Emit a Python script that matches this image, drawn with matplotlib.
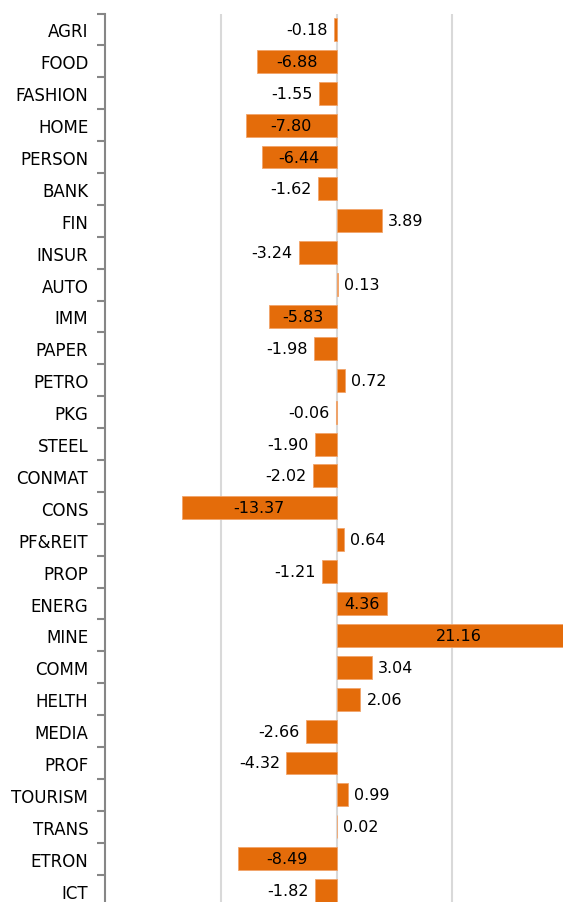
import matplotlib
matplotlib.use("Agg")
import matplotlib.pyplot as plt
import numpy as np

categories = ["AGRI", "FOOD", "FASHION", "HOME", "PERSON", "BANK", "FIN", "INSUR",
              "AUTO", "IMM", "PAPER", "PETRO", "PKG", "STEEL", "CONMAT", "CONS",
              "PF&REIT", "PROP", "ENERG", "MINE", "COMM", "HELTH", "MEDIA", "PROF",
              "TOURISM", "TRANS", "ETRON", "ICT"]
values = [-0.18, -6.88, -1.55, -7.80, -6.44, -1.62, 3.89, -3.24,
          0.13, -5.83, -1.98, 0.72, -0.06, -1.90, -2.02, -13.37,
          0.64, -1.21, 4.36, 21.16, 3.04, 2.06, -2.66, -4.32,
          0.99, 0.02, -8.49, -1.82]
value_labels = ["%.2f" % v for v in values]

plt.rcParams['font.family'] = ['DejaVu Sans']

W, H = 563, 903
fig = plt.figure(figsize=(W / 100, H / 100), dpi=100)
ax = fig.add_axes([105 / W, -4.5 / H, 463 / W, 893 / H])

y = np.arange(len(categories))
bar_color = '#E46C0A'
ax.barh(y, values, height=0.72, color=bar_color, edgecolor='#F2A46A',
        linewidth=0.6, zorder=3)

ax.set_xlim(-20, 20)
ax.set_ylim(len(categories) - 0.5, -0.5)

for xv in (-10, 0, 10):
    ax.axvline(xv, color='#D9D9D9', lw=1.5, zorder=1)

for i, (v, s) in enumerate(zip(values, value_labels)):
    if abs(v) > 4.33:
        ax.text(v / 2, i, s, ha='center', va='center', fontsize=11.5,
                color='black', zorder=4, clip_on=False)
    else:
        off = 4.5 if v >= 0 else -4.5
        ax.annotate(s, (v, i), xytext=(off, 0), textcoords='offset points',
                    ha='left' if v >= 0 else 'right', va='center',
                    fontsize=11.5, color='black', zorder=4)

ax.set_yticks(y)
ax.set_yticklabels(categories, fontsize=12)
ax.set_yticks(np.arange(-0.5, len(categories) + 0.5, 1), minor=True)
ax.tick_params(axis='y', which='major', length=0, pad=12)
ax.tick_params(axis='y', which='minor', length=5.8, width=1.5, color='#868686')
ax.set_xticks([])

for sp in ['top', 'right', 'bottom']:
    ax.spines[sp].set_visible(False)
ax.spines['left'].set_color('#868686')
ax.spines['left'].set_linewidth(1.5)
ax.spines['left'].set_zorder(5)

fig.savefig("out.png", dpi=100)
